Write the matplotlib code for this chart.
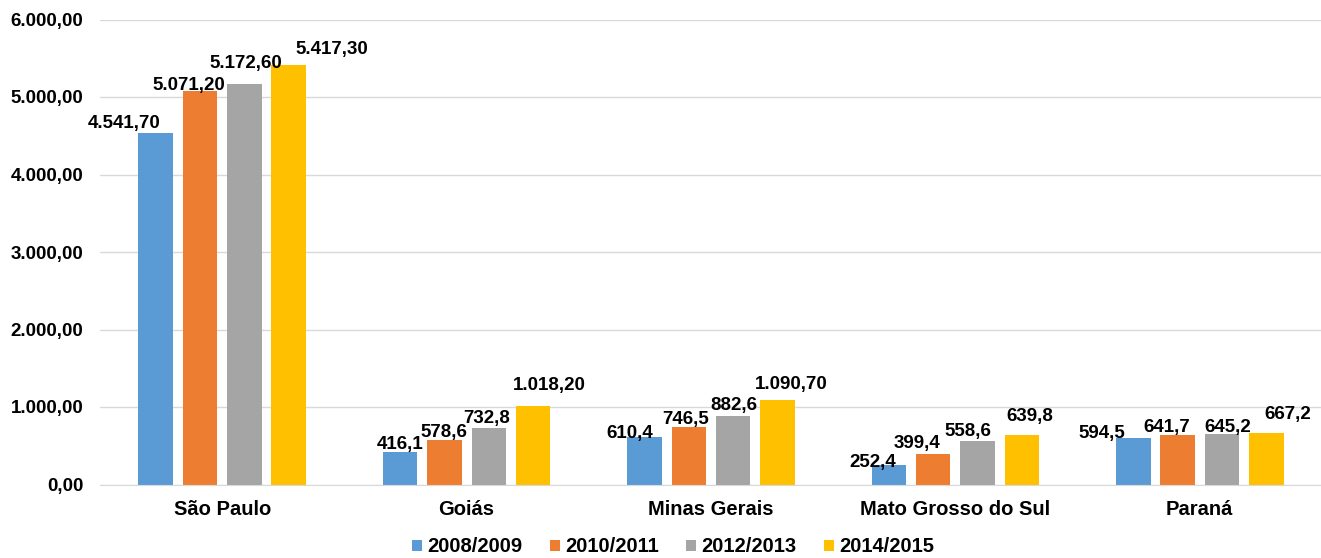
import matplotlib
matplotlib.use("Agg")
import matplotlib.pyplot as plt
import numpy as np
from matplotlib.ticker import FuncFormatter

plt.rcParams['font.family'] = ['Liberation Sans', 'DejaVu Sans']
plt.rcParams['font.weight'] = 'bold'

categories = ["São Paulo", "Goiás", "Minas Gerais", "Mato Grosso do Sul", "Paraná"]
series_names = ["2008/2009", "2010/2011", "2012/2013", "2014/2015"]
s2008 = [4541.7, 416.1, 610.4, 252.4, 594.5]
s2010 = [5071.2, 578.6, 746.5, 399.4, 641.7]
s2012 = [5172.6, 732.8, 882.6, 558.6, 645.2]
s2014 = [5417.3, 1018.2, 1090.7, 639.8, 667.2]
labels2008 = ["4.541,70", "416,1", "610,4", "252,4", "594,5"]
labels2010 = ["5.071,20", "578,6", "746,5", "399,4", "641,7"]
labels2012 = ["5.172,60", "732,8", "882,6", "558,6", "645,2"]
labels2014 = ["5.417,30", "1.018,20", "1.090,70", "639,8", "667,2"]

colors = ["#5B9BD5", "#ED7D31", "#A5A5A5", "#FFC000"]
# label offsets in pixels (dx, dy) per series per category (style only)
offsets = [
    [(-32, 9), (0, 8), (-15, 4), (-16, 2), (-31, 5)],
    [(-11, 6), (0, 7), (-3, 7), (-16, 10), (-11, 7)],
    [(1, 20), (-2, 9), (1, 11), (-10, 10), (6, 7)],
    [(43, 15), (16, 20), (14, 15), (8, 18), (21, 18)],
]

W, H = 1321, 558
fig = plt.figure(figsize=(W / 100, H / 100), dpi=100)
ax = fig.add_axes([100 / W, (558 - 484.5) / H, (1322 - 100) / W, 465 / H])

x = np.arange(len(categories))
width = 0.141
shifts = [-0.272, -0.091, 0.091, 0.272]
all_series = [s2008, s2010, s2012, s2014]
all_labels = [labels2008, labels2010, labels2012, labels2014]

for k, (vals, labs) in enumerate(zip(all_series, all_labels)):
    bars = ax.bar(x + shifts[k], vals, width, color=colors[k], label=series_names[k], zorder=3)
    for j, (b, lab) in enumerate(zip(bars, labs)):
        dx, dy = offsets[k][j]
        ax.annotate(lab, (b.get_x() + b.get_width() / 2, b.get_height()),
                    xytext=(dx, dy), textcoords='offset pixels',
                    ha='center', va='center', fontsize=13.5, fontweight='bold',
                    color='#000000', zorder=5, annotation_clip=False)

ax.set_xlim(-0.5, 4.5)
ax.set_ylim(0, 6000)
ax.set_yticks(np.arange(0, 6001, 1000))
ax.yaxis.set_major_formatter(FuncFormatter(
    lambda v, p: f"{v:,.2f}".replace(",", "X").replace(".", ",").replace("X", ".")))
ax.set_xticks(x)
ax.set_xticklabels(categories, fontsize=14.5, fontweight='bold')
ax.tick_params(axis='y', labelsize=13.5, length=0, pad=12)
ax.tick_params(axis='x', length=0, pad=11)
ax.grid(axis='y', color='#D9D9D9', linewidth=1, zorder=0)
for s in ['top', 'right', 'left']:
    ax.spines[s].set_visible(False)
ax.spines['bottom'].set_color('#D9D9D9')
ax.spines['bottom'].set_zorder(4)

leg = fig.legend(loc='center', bbox_to_anchor=(673 / W, 1 - 547 / H), ncol=4,
                 frameon=False, fontsize=14.5, handlelength=0.5, handleheight=0.5,
                 handletextpad=0.26, columnspacing=1.35)

fig.savefig("out.png", dpi=100)
